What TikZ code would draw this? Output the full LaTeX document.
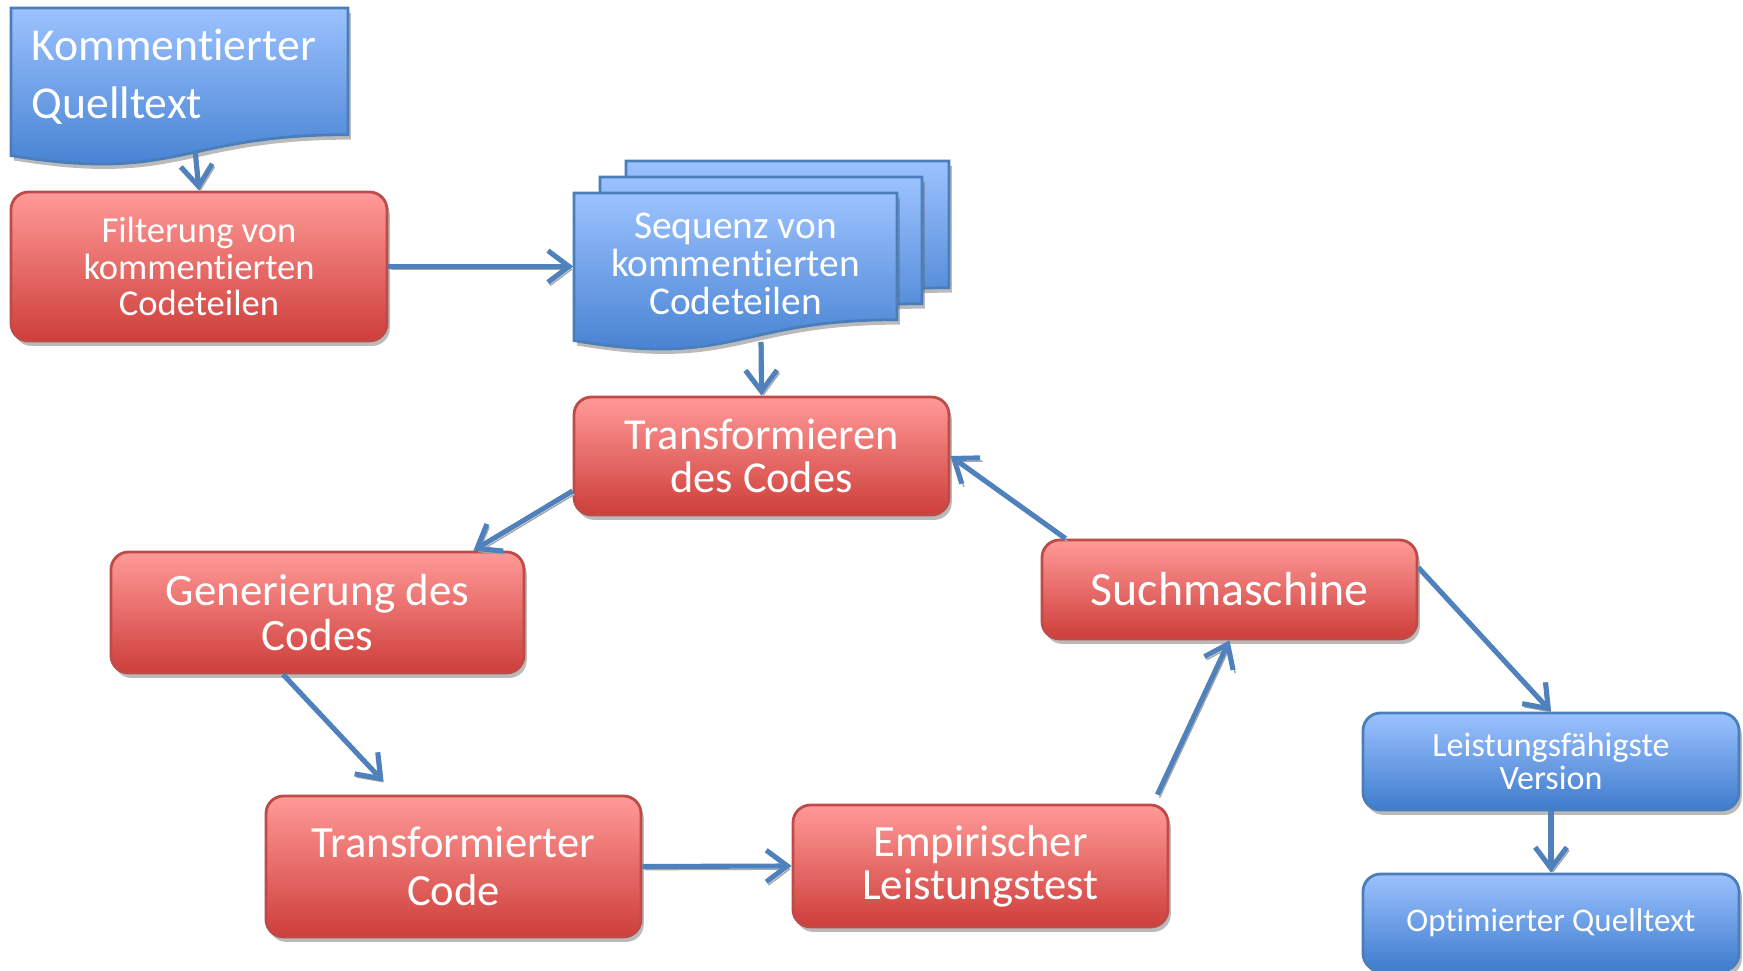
\documentclass[tikz,border=0pt]{standalone}
\usepackage{fontspec}
\setmainfont{Carlito}[Ligatures=NoCommon]
\usepackage{tikz}
\usetikzlibrary{calc}
\usetikzlibrary{shadows}
\usetikzlibrary{arrows.meta}
\definecolor{redtop}{RGB}{255,154,152}
\definecolor{redbot}{RGB}{206,62,58}
\definecolor{redline}{RGB}{190,75,72}
\definecolor{bluetop}{RGB}{156,194,255}
\definecolor{bluebot}{RGB}{62,124,205}
\definecolor{blueline}{RGB}{74,126,187}
\definecolor{arrblue}{RGB}{79,129,189}
\tikzset{
  boxshadow/.style={drop shadow={shadow xshift=0.8pt, shadow yshift=-1.4pt, fill=black!60, opacity=0.45}},
  redbox/.style={rounded corners=5pt, draw=redline, thick, top color=redtop, bottom color=redbot, text=white, align=center, inner sep=0pt, boxshadow},
  bluebox/.style={rounded corners=5pt, draw=blueline, thick, top color=bluetop, bottom color=bluebot, text=white, align=center, inner sep=0pt, boxshadow},
  docbox/.style={draw=blueline, thick, top color=bluetop, bottom color=bluebot, boxshadow},
  arr/.style={draw=arrblue, line width=1.45pt, -{Straight Barb[length=6pt,width=9pt]},
    preaction={draw=black!35, transform canvas={xshift=0.6pt,yshift=-0.9pt}}}
}
% document shape: left, top, right, height
\newcommand{\docshape}[4]{ \path[docbox] ( #1 , #2 ) -- ( #3 , #2 ) -- ( #3 , #2 - 0.802 * #4 ) .. controls ( #1 * 0.5 + #3 * 0.5 , #2 - 0.802 * #4 ) and ( #1 * 0.5 + #3 * 0.5 , #2 - 1.108 * #4 ) .. ( #1 , #2 - 0.934 * #4 ) -- cycle;}

\begin{document}
\begin{tikzpicture}
    \useasboundingbox (0,0) rectangle (17.43,-9.71);
    % documents
    \docshape{0.11}{-0.08}{3.48}{1.58}
    \docshape{6.26}{-1.61}{9.49}{1.58}
    \docshape{6.00}{-1.77}{9.22}{1.58}
    \docshape{5.74}{-1.93}{8.97}{1.58}
    \node[anchor=west, align=left, text=white, inner sep=0pt, font=\fontsize{13}{16.5}\selectfont] (kq) at (0.31,-0.77) {Kommentierter\\Quelltext};
    \node[align=center, text=white, inner sep=0pt, minimum width=3.23cm, font=\fontsize{11.2}{10.8}\selectfont] (seq) at (7.355,-2.635) {Sequenz von\\kommentierten\\Codeteilen};
    \coordinate (kqout) at (1.95,-1.50);
    \coordinate (seqout) at (7.61,-3.42);
    % boxes
    \node[redbox, minimum width=3.76cm, minimum height=1.49cm, font=\fontsize{10.4}{10.3}\selectfont] (filt) at (1.99,-2.665) {Filterung von\\kommentierten\\Codeteilen};
    \node[redbox, minimum width=3.75cm, minimum height=1.18cm, font=\fontsize{12.6}{12.3}\selectfont] (trf) at (7.615,-4.56) {Transformieren\\des Codes};
    \node[redbox, minimum width=4.13cm, minimum height=1.21cm, font=\fontsize{12.8}{12.7}\selectfont] (gen) at (3.175,-6.125) {Generierung des\\Codes};
    \node[redbox, minimum width=3.75cm, minimum height=1.41cm, font=\fontsize{12.7}{13.6}\selectfont] (tcode) at (4.535,-8.665) {Transformierter\\Code};
    \node[redbox, minimum width=3.75cm, minimum height=1.22cm, font=\fontsize{12.7}{12.3}\selectfont] (emp) at (9.805,-8.66) {Empirischer\\Leistungstest};
    \node[redbox, minimum width=3.75cm, minimum height=0.99cm, font=\fontsize{13.6}{14}\selectfont] (such) at (12.295,-5.895) {Suchmaschine};
    \node[bluebox, minimum width=3.76cm, minimum height=0.97cm, font=\fontsize{9.7}{9.5}\selectfont] (lfv) at (15.51,-7.615) {Leistungsfähigste\\Version};
    \node[bluebox, minimum width=3.76cm, minimum height=0.97cm, font=\fontsize{9.4}{9.5}\selectfont] (opt) at (15.51,-9.225) {Optimierter Quelltext};
    % arrows
    \draw[arr] (kqout) -- (filt.north);
    \draw[arr] (filt.east) -- (filt.east -| seq.west);
    \draw[arr] (seqout) -- (trf.north);
    \draw[arr] ([yshift=-0.35cm]trf.west) -- ([xshift=-0.52cm]gen.north east);
    \draw[arr] ([xshift=-0.345cm]gen.south) -- ([xshift=-0.7cm,yshift=0.13cm]tcode.north);
    \draw[arr] (tcode.east) -- (emp.west);
    \draw[arr] ([xshift=-0.12cm,yshift=0.09cm]emp.north east) -- (such.south);
    \draw[arr] ([xshift=0.25cm]such.north west) -- (trf.east);
    \draw[arr] ([yshift=-0.29cm]such.north east) -- (lfv.north);
    \draw[arr] (lfv.south) -- (opt.north);
\end{tikzpicture}
\end{document}
